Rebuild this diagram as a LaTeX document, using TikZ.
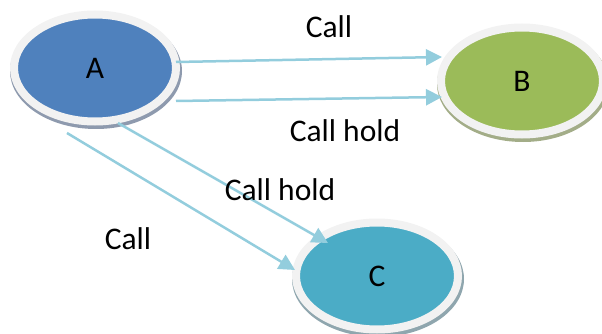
\documentclass[tikz,border=0pt]{standalone}
\usepackage{fontspec}
\setmainfont{Carlito}
\usetikzlibrary{shapes.geometric,arrows.meta,calc}
\definecolor{rim}{HTML}{F2F2F2}
\definecolor{blueA}{HTML}{4F81BD}
\definecolor{greenB}{HTML}{9BBB59}
\definecolor{tealC}{HTML}{4BACC6}
\definecolor{arrowcol}{HTML}{93CDDD}
\definecolor{shadowA}{HTML}{8E9AAE}
\definecolor{shadowB}{HTML}{A3AD88}
\definecolor{shadowC}{HTML}{8FA6AE}
\begin{document}
\begin{tikzpicture}[x=1pt,y=-1pt,
  ellnode/.style={ellipse, minimum width=162pt, minimum height=107pt, draw=rim, line width=8pt, inner sep=0pt, font=\fontsize{31.5}{36}\selectfont},
  shadowell/.style={x radius=86pt, y radius=58pt},
  conn/.style={draw=arrowcol, line width=2.5pt, -{Triangle[length=16pt,width=16pt]}},
  lbl/.style={font=\fontsize{31.5}{36}\selectfont, inner sep=0pt}]
\useasboundingbox (0,0) rectangle (602,334);
% shadows
\coordinate (sA) at (96,71);
\coordinate (sB) at (523,84);
\coordinate (sC) at (378,279);
\fill[shadowA] (sA) ellipse [shadowell];
\fill[shadowB] (sB) ellipse [shadowell];
\fill[shadowC] (sC) ellipse [shadowell];
% ellipses
\node[ellnode, fill=blueA] (A) at (95,68) {A};
\node[ellnode, fill=greenB] (B) at (522,81) {B};
\node[ellnode, fill=tealC] (C) at (377,276) {C};
% connectors
\draw[conn] ($(A.center)+(81,-6)$) -- ($(B.center)+(-80,-24)$);
\draw[conn] ($(A.center)+(81,33)$) -- ($(B.center)+(-80,16)$);
\draw[conn] ($(A.center)+(23,55)$) -- ($(C.center)+(-49,-33)$);
\draw[conn] ($(A.center)+(-28,65)$) -- ($(C.center)+(-82,-6)$);
% labels
\node[lbl] (l1) at (329,27) {Call};
\node[lbl] (l2) at (345,131) {Call hold};
\node[lbl] (l3) at (280,190) {Call hold};
\node[lbl] (l4) at (128,239) {Call};
\end{tikzpicture}
\end{document}
